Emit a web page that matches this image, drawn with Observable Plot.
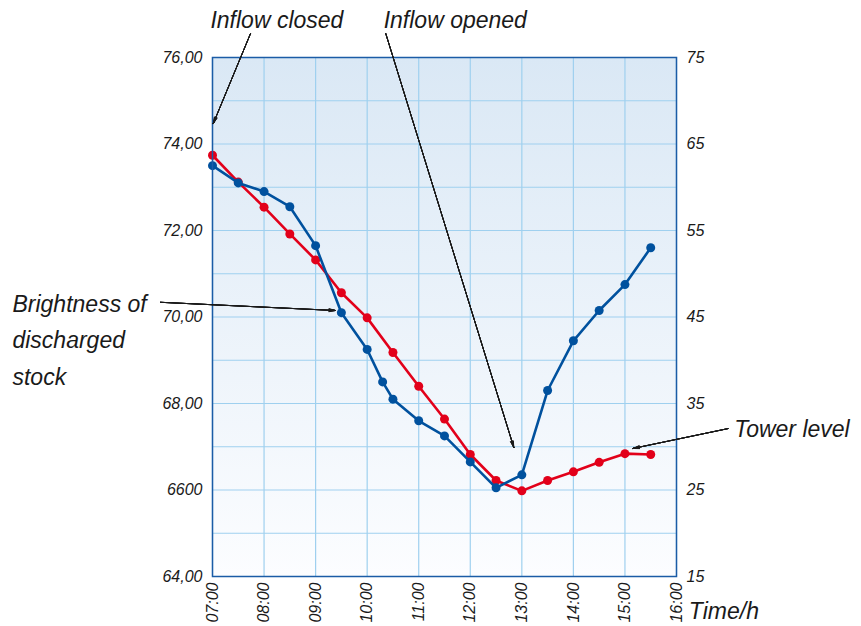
<!DOCTYPE html>
<html>
<head>
<meta charset="utf-8">
<script src="https://cdn.jsdelivr.net/npm/d3@7"></script>
<script src="https://cdn.jsdelivr.net/npm/@observablehq/plot@0.6"></script>
<style>
  html, body { margin: 0; padding: 0; background: #fff; }
  svg { display: block; }
</style>
</head>
<body>
<div id="chart"></div>
<script>
// ---- data ----
const brightnessTimes = ["07:00","07:30","08:00","08:30","09:00","09:30","10:00","10:18","10:30","11:00","11:30","12:00","12:30","13:00","13:30","14:00","14:30","15:00","15:30"];
const brightnessValues = [73.5, 73.1, 72.9, 72.55, 71.65, 70.1, 69.25, 68.5, 68.1, 67.6, 67.25, 66.65, 66.05, 66.35, 68.3, 69.45, 70.15, 70.75, 71.6];

const towerTimes = ["07:00","07:30","08:00","08:30","09:00","09:30","10:00","10:30","11:00","11:30","12:00","12:30","13:00","13:30","14:00","14:30","15:00","15:30"];
const towerValues = [63.7, 60.6, 57.7, 54.6, 51.6, 47.8, 44.9, 40.9, 37.0, 33.2, 29.1, 26.1, 24.9, 26.1, 27.1, 28.2, 29.2, 29.1];

const hourTicks = [7, 8, 9, 10, 11, 12, 13, 14, 15, 16];
const leftTicks = [64, 66, 68, 70, 72, 74, 76];
const leftLabels = ["64,00", "6600", "68,00", "70,00", "72,00", "74,00", "76,00"];
const rightTicks = [15, 25, 35, 45, 55, 65, 75];

// annotations (in data coordinates: hours, left-axis value)
const notes = [
  {t: 6.96, v: 76.86, text: "Inflow closed"},
  {t: 10.32, v: 76.86, text: "Inflow opened"},
  {t: 3.12, v: 69.46, text: "Brightness of\ndischarged\nstock"},
  {t: 17.12, v: 67.42, text: "Tower level"},
  {t: 16.24, v: 63.21, text: "Time/h"}
];
const arrows = [
  {t1: 7.738, v1: 76.555, t2: 7.014, v2: 74.47},
  {t1: 10.36, v1: 76.555, t2: 12.845, v2: 66.98},
  {t1: 5.99, v1: 70.34, t2: 9.388, v2: 70.15},
  {t1: 17.0, v1: 67.42, t2: 15.155, v2: 66.96}
];

// ---- helpers ----
const toHours = s => { const [h, m] = s.split(":").map(Number); return h + m / 60; };
const rightToLeft = r => 64 + (r - 15) / 5;   // right axis 15..75 ↔ left axis 64..76

const brightness = brightnessTimes.map((s, i) => ({t: toHours(s), v: brightnessValues[i]}));
const tower = towerTimes.map((s, i) => ({t: toHours(s), v: rightToLeft(towerValues[i])}));

const RED = "#e2001a";
const BLUE = "#00519e";
const GRID = "#9fd0ef";
const FRAME = "#1b5ca6";
const FONT = "'Liberation Sans', Arial, Helvetica, sans-serif";

// filled-looking arrowheads: several arrows with narrowing head angles
const arrowMarks = [26, 20, 14, 8, 3].map(a =>
  Plot.arrow(arrows, {x1: "t1", y1: "v1", x2: "t2", y2: "v2", stroke: "#1a1a1a", strokeWidth: 1, headLength: 10, headAngle: a})
);

const plot = Plot.plot({
  width: 861,
  height: 626,
  marginLeft: 212,
  marginRight: 185,
  marginTop: 57,
  marginBottom: 50,
  style: {fontFamily: FONT, fontStyle: "italic", fontSize: "16px", color: "#1a1a1a", background: "transparent"},
  x: {domain: [7, 16]},
  y: {domain: [64, 76]},
  marks: [
    Plot.frame({fill: "url(#bgGrad)", stroke: "none"}),
    Plot.gridX(hourTicks, {stroke: GRID, strokeOpacity: 1, strokeWidth: 1.2}),
    Plot.gridY(d3.range(64, 77, 1), {stroke: GRID, strokeOpacity: 1, strokeWidth: 1.2}),
    Plot.axisX({ticks: hourTicks, tickFormat: d => String(d).padStart(2, "0") + ":00", tickRotate: -90, tickSize: 0, tickPadding: 6, label: null, fontSize: 16}),
    Plot.axisY({anchor: "left", ticks: leftTicks, tickFormat: d => leftLabels[leftTicks.indexOf(d)], tickSize: 0, tickPadding: 10, label: null, fontSize: 16}),
    Plot.axisY({anchor: "right", ticks: rightTicks.map(rightToLeft), tickFormat: (d, i) => String(rightTicks[i]), tickSize: 0, tickPadding: 10, label: null, fontSize: 16}),
    Plot.line(tower, {x: "t", y: "v", stroke: RED, strokeWidth: 2.6}),
    Plot.dot(tower, {x: "t", y: "v", fill: RED, r: 4.5}),
    Plot.line(brightness, {x: "t", y: "v", stroke: BLUE, strokeWidth: 2.6}),
    Plot.dot(brightness, {x: "t", y: "v", fill: BLUE, r: 4.5}),
    Plot.frame({stroke: FRAME, strokeWidth: 1.5}),
    ...arrowMarks,
    Plot.text(notes, {x: "t", y: "v", text: "text", textAnchor: "start", lineAnchor: "middle", fontSize: 23, lineHeight: 1.57, dy: -3.5, fill: "#1a1a1a"})
  ]
});

// gradient for the plot background
const svg = d3.select(plot);
const defs = svg.insert("defs", ":first-child");
const g = defs.append("linearGradient").attr("id", "bgGrad").attr("x1", 0).attr("y1", 0).attr("x2", 0).attr("y2", 1);
g.append("stop").attr("offset", "0%").attr("stop-color", "#dae8f5");
g.append("stop").attr("offset", "100%").attr("stop-color", "#fcfdff");

document.getElementById("chart").appendChild(plot);
</script>
</body>
</html>
